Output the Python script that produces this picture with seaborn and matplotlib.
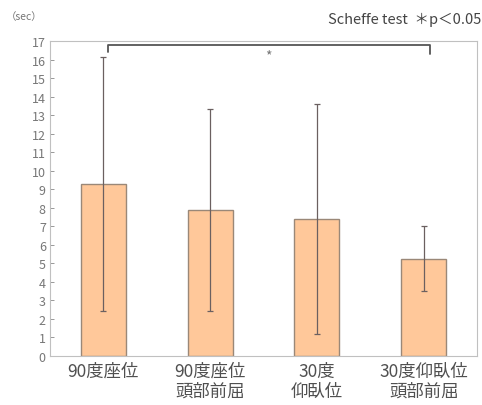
import matplotlib
matplotlib.use("Agg")
import matplotlib.pyplot as plt
import seaborn as sns
import pandas as pd

categories = ["90度座位", "90度座位\n頭部前屈", "30度\n仰臥位", "30度仰臥位\n頭部前屈"]
means = [9.3, 7.9, 7.4, 5.25]
sds = [6.85, 5.45, 6.2, 1.75]
yticks = list(range(0, 18))

sns.set_theme(style="white")
plt.rcParams['font.family'] = ['Noto Sans CJK JP', 'DejaVu Sans']

df = pd.DataFrame({"cond": categories, "time": means})

fig = plt.figure(figsize=(4.82, 4.06), dpi=100)
ax = fig.add_axes([50/482, 49/406, 427/482, 315/406])

sns.barplot(data=df, x="cond", y="time", ax=ax, color="#FFC89A", width=0.42,
            edgecolor="#9a8878", linewidth=1.0, errorbar=None, saturation=1)
ax.errorbar(range(len(means)), means, yerr=sds, fmt="none", ecolor="#6b6060",
            elinewidth=0.9, capsize=2.5, capthick=0.9)

ax.set_ylim(0, 17)
ax.set_xlim(-0.5, 3.5)
ax.set_yticks(yticks)
ax.set_yticklabels([str(v) for v in yticks], color="#777777", fontsize=9)
ax.tick_params(axis="y", direction="in", length=3, width=0.6, color="#888888", pad=3, left=True)
ax.tick_params(axis="x", length=0, pad=4, labelsize=12.5, labelcolor="#505050")
for lab in ax.get_xticklabels():
    lab.set_linespacing(1.15)
ax.set_xlabel("")
ax.set_ylabel("")
for s in ax.spines.values():
    s.set_color("#c0c0c0")
    s.set_linewidth(0.8)

# significance bracket
ax.plot([0.04, 0.04, 3.06, 3.06], [16.4, 16.8, 16.8, 16.3], color="#555555", lw=1.3,
        clip_on=False)
ax.text(1.55, 16.25, "*", ha="center", va="center", fontsize=10, color="#777777")

fig.text(0.998, 0.95, "Scheffe test  ＊p＜0.05", ha="right", va="center", fontsize=10.5,
         color="#444444")
fig.text(0.012, 0.958, "（sec）", ha="left", va="center", fontsize=7.5, color="#777777")

fig.savefig("out.png", dpi=100)
